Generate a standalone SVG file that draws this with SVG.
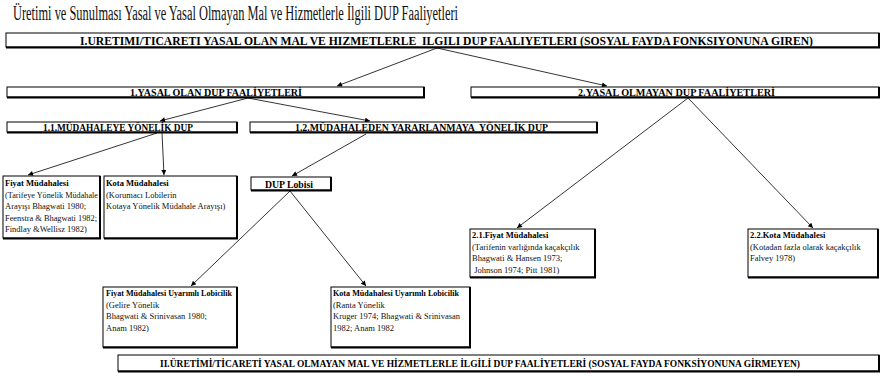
<svg xmlns="http://www.w3.org/2000/svg" width="884" height="377" viewBox="0 0 884 377">
<defs>
<style>
.bx{fill:#fff;stroke:#000;stroke-width:1}
.sh{fill:none;stroke:#000;stroke-width:2}
.hd{font-family:"Liberation Serif","Times New Roman",serif;font-weight:bold;fill:#000}
.bt{font-family:"Liberation Serif","Times New Roman",serif;font-size:8.5px;fill:#111}
.bb{font-family:"Liberation Serif","Times New Roman",serif;font-size:8.5px;font-weight:bold;fill:#000}
.ln{stroke:#000;stroke-width:0.8;fill:none;marker-end:url(#ah)}
</style>
<marker id="ah" viewBox="0 0 10 10" refX="10" refY="5" markerWidth="7" markerHeight="5" markerUnits="userSpaceOnUse" orient="auto">
<path d="M0,0 L10,5 L0,10 z" fill="#000"/>
</marker>
</defs>
<rect width="884" height="377" fill="#fff"/>
<text x="13" y="20" font-family="Liberation Serif, Times New Roman, serif" font-size="20" textLength="445" lengthAdjust="spacingAndGlyphs" fill="#111">Üretimi ve Sunulması Yasal ve Yasal Olmayan Mal ve Hizmetlerle İlgili DUP Faaliyetleri</text>

<g id="connectors">
<line class="ln" x1="437" y1="48" x2="337" y2="86"/>
<line class="ln" x1="437" y1="48" x2="607" y2="86"/>
<line class="ln" x1="248" y1="98" x2="160" y2="121"/>
<line class="ln" x1="248" y1="98" x2="370" y2="121"/>
<line class="ln" x1="157" y1="133" x2="28" y2="175"/>
<line class="ln" x1="162" y1="133" x2="164" y2="175"/>
<line class="ln" x1="366" y1="134" x2="292" y2="176"/>
<line class="ln" x1="290" y1="191" x2="191" y2="286"/>
<line class="ln" x1="290" y1="191" x2="366" y2="286"/>
<line class="ln" x1="688" y1="98" x2="517" y2="228"/>
<line class="ln" x1="688" y1="98" x2="813" y2="228"/>
</g>

<g id="n-I">
<rect class="bx" x="6" y="33" width="873" height="14"/>
<polyline class="sh" points="879,33 879,47.5 6,47.5"/>
<text class="hd" x="80" y="45" font-size="12.5" textLength="733" lengthAdjust="spacingAndGlyphs" xml:space="preserve">I.URETIMI/TICARETI YASAL OLAN MAL VE HIZMETLERLE  ILGILI DUP FAALIYETLERI (SOSYAL FAYDA FONKSIYONUNA GIREN)</text>
</g>

<g id="n-1">
<rect class="bx" x="7" y="87" width="417" height="10"/>
<polyline class="sh" points="424,87 424,97.5 7,97.5"/>
<text class="hd" x="130" y="96" font-size="11" textLength="172" lengthAdjust="spacingAndGlyphs">1.YASAL OLAN DUP FAALİYETLERİ</text>
</g>

<g id="n-2">
<rect class="bx" x="471" y="87" width="408" height="10"/>
<polyline class="sh" points="879,87 879,97.5 471,97.5"/>
<text class="hd" x="578" y="96" font-size="11" textLength="197" lengthAdjust="spacingAndGlyphs">2.YASAL OLMAYAN DUP FAALİYETLERİ</text>
</g>

<g id="n-1-1">
<rect class="bx" x="7" y="122" width="230" height="10"/>
<polyline class="sh" points="237,122 237,132.5 7,132.5"/>
<text class="hd" x="43" y="131" font-size="11" textLength="150" lengthAdjust="spacingAndGlyphs">1.1.MÜDAHALEYE YÖNELİK DUP</text>
</g>

<g id="n-1-2">
<rect class="bx" x="250" y="122" width="347" height="10"/>
<polyline class="sh" points="597,122 597,132.5 250,132.5"/>
<text class="hd" x="295" y="131" font-size="11" textLength="253" lengthAdjust="spacingAndGlyphs" xml:space="preserve">1.2.MÜDAHALEDEN YARARLANMAYA  YÖNELİK DUP</text>
</g>

<g id="n-lobi">
<rect class="bx" x="251" y="177" width="80" height="13"/>
<polyline class="sh" points="331,177 331,190.5 251,190.5"/>
<text class="hd" x="265" y="187.5" font-size="10.5" textLength="48" lengthAdjust="spacingAndGlyphs">DUP Lobisi</text>
</g>

<g id="n-fiyat">
<rect class="bx" x="3" y="176" width="97" height="62"/>
<polyline class="sh" points="100,176 100,238.5 3,238.5"/>
<text class="bb" x="5" y="186">Fiyat Müdahalesi</text>
<text class="bt" x="5" y="197.5" textLength="93" lengthAdjust="spacingAndGlyphs">(Tarifeye Yönelik Müdahale</text>
<text class="bt" x="5" y="209">Arayışı Bhagwati 1980;</text>
<text class="bt" x="5" y="220.5" textLength="92" lengthAdjust="spacingAndGlyphs">Feenstra &amp; Bhagwati 1982;</text>
<text class="bt" x="5" y="232">Findlay &amp;Wellisz 1982)</text>
</g>

<g id="n-kota">
<rect class="bx" x="104" y="176" width="133" height="62"/>
<polyline class="sh" points="237,176 237,238.5 104,238.5"/>
<text class="bb" x="106" y="186">Kota Müdahalesi</text>
<text class="bt" x="106" y="197.5">(Korumacı Lobilerin</text>
<text class="bt" x="106" y="209">Kotaya Yönelik Müdahale Arayışı)</text>
</g>

<g id="n-fiyat-lobi">
<rect class="bx" x="103" y="287" width="134" height="60"/>
<polyline class="sh" points="237,287 237,347.5 103,347.5"/>
<text class="bb" x="106" y="296" textLength="126" lengthAdjust="spacingAndGlyphs">Fiyat Müdahalesi Uyarımlı Lobicilik</text>
<text class="bt" x="106" y="307.5">(Gelire Yönelik</text>
<text class="bt" x="106" y="319">Bhagwati &amp; Srinivasan 1980;</text>
<text class="bt" x="106" y="330.5">Anam 1982)</text>
</g>

<g id="n-kota-lobi">
<rect class="bx" x="331" y="287" width="139" height="60"/>
<polyline class="sh" points="470,287 470,347.5 331,347.5"/>
<text class="bb" x="333" y="296" textLength="126" lengthAdjust="spacingAndGlyphs">Kota Müdahalesi Uyarımlı Lobicilik</text>
<text class="bt" x="333" y="307.5">(Ranta Yönelik</text>
<text class="bt" x="333" y="319">Kruger 1974; Bhagwati &amp; Srinivasan</text>
<text class="bt" x="333" y="330.5">1982; Anam 1982</text>
</g>

<g id="n-2-1">
<rect class="bx" x="470" y="229" width="125" height="48"/>
<polyline class="sh" points="595,229 595,277.5 470,277.5"/>
<text class="bb" x="472" y="238">2.1.Fiyat Müdahalesi</text>
<text class="bt" x="472" y="249.5">(Tarifenin varlığında kaçakçılık</text>
<text class="bt" x="472" y="261">Bhagwati &amp; Hansen 1973;</text>
<text class="bt" x="472" y="272.5" xml:space="preserve"> Johnson 1974; Pitt 1981)</text>
</g>

<g id="n-2-2">
<rect class="bx" x="748" y="229" width="130" height="48"/>
<polyline class="sh" points="878,229 878,277.5 748,277.5"/>
<text class="bb" x="750" y="238">2.2.Kota Müdahalesi</text>
<text class="bt" x="750" y="249.5">(Kotadan fazla olarak kaçakçılık</text>
<text class="bt" x="750" y="261">Falvey 1978)</text>
</g>

<g id="n-II">
<rect class="bx" x="118" y="355" width="761" height="16"/>
<polyline class="sh" points="879,355 879,371.5 118,371.5"/>
<text class="hd" x="160" y="367" font-size="10.5" textLength="640" lengthAdjust="spacingAndGlyphs">II.ÜRETİMİ/TİCARETİ YASAL OLMAYAN MAL VE HİZMETLERLE İLGİLİ DUP FAALİYETLERİ (SOSYAL FAYDA FONKSİYONUNA GİRMEYEN)</text>
</g>
</svg>
